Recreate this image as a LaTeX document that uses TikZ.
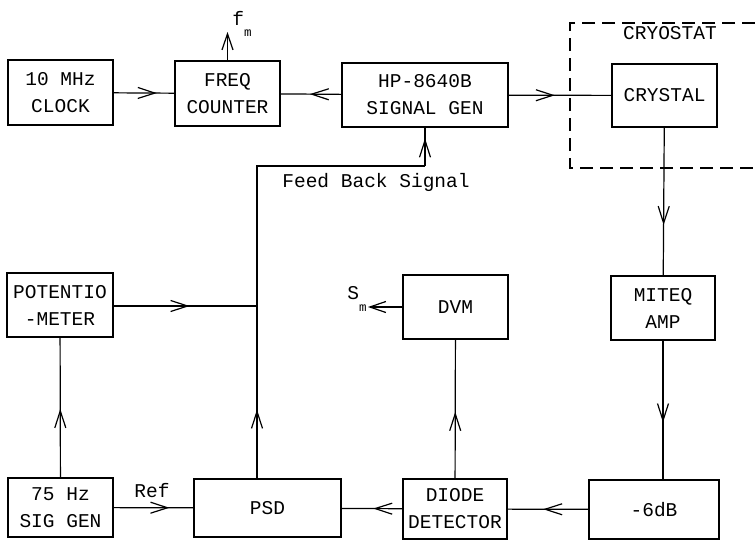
\documentclass[tikz,border=0pt]{standalone}
\usepackage{fontspec}
\setmonofont{Liberation Mono}
\usetikzlibrary{arrows.meta,decorations.markings}
\tikzstyle{block}=[rectangle, draw=black, line width=1.2pt, inner sep=0pt,
                   align=center, font=\ttfamily\fontsize{19.5}{27}\selectfont]
\tikzstyle{lbl}  =[inner sep=0pt, font=\ttfamily\fontsize{19.5}{27}\selectfont]
\tikzstyle{wire} =[line width=1.2pt]
\tikzstyle{outarr}=[wire, -{Straight Barb[length=16pt,width=11pt]}]
\tikzset{flow/.style={wire, postaction={decorate},
  decoration={markings, mark=at position #1 with
    {\arrow[line width=1.2pt]{Straight Barb[length=17pt,width=11pt]}}}}}
\newcommand{\lowidx}[1]{\raisebox{-1.1ex}{\fontsize{12.5}{12.5}\selectfont #1}}

\begin{document}
\begin{tikzpicture}[x=1pt, y=-1pt]
  \useasboundingbox (0,0) rectangle (755,541);

  % ── top row ────────────────────────────────────────────────────────────────
  \node[block, minimum width=105pt, minimum height=65pt] (clock)   at (60.5, 92.5) {10 MHz\\CLOCK};
  \node[block, minimum width=105pt, minimum height=65pt] (counter) at (227.5,93.5) {FREQ\\COUNTER};
  \node[block, minimum width=166pt, minimum height=64pt] (siggen)  at (425, 95)    {HP-8640B\\SIGNAL GEN};
  \node[block, minimum width=105pt, minimum height=63pt] (crystal) at (664.5,95.5) {CRYSTAL};

  % ── cryostat (runs off the right edge) ─────────────────────────────────────
  \draw[wire, dash pattern=on 13pt off 7pt] (755,23) -- (570,23) -- (570,168) -- (755,168);
  \node[lbl] (cryo) at (670,33) {CRYOSTAT};

  % ── right column and bottom row ────────────────────────────────────────────
  \node[block, minimum width=104pt, minimum height=64pt] (miteq)   at (663, 308)   {MITEQ\\AMP};
  \node[block, minimum width=130pt, minimum height=59pt] (atten)   at (654, 509.5) {-6dB};
  \node[block, minimum width=104pt, minimum height=60pt] (diode)   at (455, 509)   {DIODE\\DETECTOR};
  \node[block, minimum width=105pt, minimum height=64pt] (dvm)     at (455.5,307)  {DVM};
  \node[block, minimum width=147pt, minimum height=58pt] (psd)     at (267.5,508)  {PSD};
  \node[block, minimum width=106pt, minimum height=64pt] (pot)     at (60, 305)    {POTENTIO\\-METER};
  \node[block, minimum width=105pt, minimum height=59pt] (lfgen)   at (60.5,507.5) {75 Hz\\SIG GEN};

  % ── outputs ────────────────────────────────────────────────────────────────
  \coordinate (fmtip) at (227.5,32);
  \coordinate (smtip) at (368,307);
  \node[lbl] (fm) at (242,24) {f\lowidx{m}};
  \node[lbl] (sm) at (357,299) {S\lowidx{m}};
  \draw[outarr] (counter.north) -- (fmtip);
  \draw[outarr] (dvm.west) -- (smtip);

  % ── signal flow ────────────────────────────────────────────────────────────
  \draw[flow=0.71] (clock) -- (counter);
  \draw[flow=0.52] (siggen) -- (counter);
  \draw[flow=0.45] (siggen) -- (crystal);
  \draw[flow=0.66] (crystal) -- (miteq);
  \draw[flow=0.59] (miteq.south) -- (miteq.south |- atten.north);
  \draw[flow=0.56] (atten) -- (diode);
  \draw[flow=0.48] (diode) -- (psd);
  \draw[flow=0.48] (diode) -- (dvm);
  \draw[flow=0.70] (lfgen) -- node[lbl, above=9pt, pos=0.48]{Ref} (psd);
  \draw[flow=0.49] (lfgen) -- (pot);

  % ── feedback loop ──────────────────────────────────────────────────────────
  \coordinate (jct) at (257,306);
  \coordinate (fbk) at (425,166);
  \draw[flow=0.53] (pot.east |- jct) -- (jct);
  \draw[flow=0.40] (psd.north -| jct) -- (jct);
  \draw[wire] (jct) |- (fbk);
  \draw[flow=0.72] (fbk) -- (siggen.south);
  \node[lbl] (fblabel) at (376,182) {Feed Back Signal};

\end{tikzpicture}
\end{document}
